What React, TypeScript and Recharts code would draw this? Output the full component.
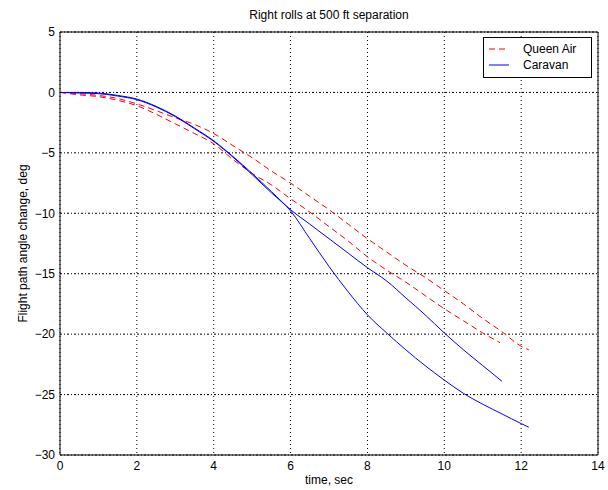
import { LineChart, Line, XAxis, YAxis, CartesianGrid, ReferenceLine } from "recharts";

// time, sec
const queenAirTime1 = [0, 0.5, 1, 1.5, 2, 2.5, 3, 3.5, 4, 4.5, 5, 5.5, 6, 6.5, 7, 7.5, 8, 8.5, 9, 9.5, 10, 10.5, 11, 11.5, 12, 12.2];
const queenAirAngle1 = [0, -0.1, -0.25, -0.5, -0.95, -1.5, -2.1, -2.65, -3.4, -4.4, -5.4, -6.5, -7.5, -8.6, -9.7, -10.9, -12.1, -13.2, -14.3, -15.3, -16.4, -17.5, -18.7, -19.8, -21.0, -21.3];

const queenAirTime2 = [0, 0.5, 1, 1.5, 2, 2.5, 3, 3.5, 4, 4.5, 5, 5.5, 6, 6.5, 7, 7.5, 8, 8.5, 9, 9.5, 10, 10.5, 11, 11.45];
const queenAirAngle2 = [0, -0.2, -0.35, -0.65, -1.1, -1.8, -2.6, -3.4, -4.25, -5.55, -6.7, -7.65, -8.8, -9.9, -11.1, -12.3, -13.6, -14.7, -15.7, -16.8, -17.9, -18.9, -19.9, -20.7];

const caravanTime1 = [0, 0.5, 1, 1.5, 2, 2.5, 3, 3.5, 4, 4.5, 5, 5.5, 6, 6.5, 7, 7.5, 8, 8.5, 9, 9.5, 10, 10.5, 11, 11.5];
const caravanAngle1 = [0, 0, -0.05, -0.25, -0.55, -1.15, -1.95, -2.95, -4.0, -5.3, -6.7, -8.2, -9.7, -10.9, -12.1, -13.3, -14.5, -15.6, -17.0, -18.4, -19.9, -21.3, -22.6, -23.9];

const caravanTime2 = [0, 0.5, 1, 1.5, 2, 2.5, 3, 3.5, 4, 4.5, 5, 5.5, 6, 6.5, 7, 7.5, 8, 8.5, 9, 9.5, 10, 10.5, 11, 11.5, 12, 12.2];
const caravanAngle2 = [0, -0.05, -0.1, -0.3, -0.6, -1.2, -2.0, -3.0, -4.05, -5.35, -6.8, -8.3, -9.8, -12.1, -14.4, -16.5, -18.4, -19.9, -21.3, -22.6, -23.8, -24.9, -25.8, -26.6, -27.4, -27.7];

const xTicks = [0, 2, 4, 6, 8, 10, 12, 14];
const yTicks = [-30, -25, -20, -15, -10, -5, 0, 5];

const toPoints = (t: number[], v: number[]) => t.map((time, i) => ({ time, angle: v[i] }));

const FONT = "'Liberation Sans', Arial, Helvetica, sans-serif";
const tickStyle = { fontSize: 12, fill: "#000", fontFamily: FONT };
const fmt = (v: number) => (v < 0 ? "\u2212" + Math.abs(v) : String(v));

export default function App() {
  return (
    <div style={{ position: "absolute", left: 0, top: 0, width: 606, height: 488, fontFamily: FONT, background: "#fff" }}>
      <div
        style={{ position: "absolute", left: 60, width: 538, top: 8, textAlign: "center", fontSize: 12, color: "#000" }}
      >
        Right rolls at 500 ft separation
      </div>
      <LineChart width={606} height={488} margin={{ top: 32, right: 8, left: 0, bottom: 4 }}>
        <CartesianGrid vertical={false} stroke="#000" strokeDasharray="2 2 1 2" />
        <CartesianGrid horizontal={false} stroke="#000" strokeDasharray="1 3" />
        <XAxis
          type="number"
          dataKey="time"
          domain={[0, 14]}
          ticks={xTicks}
          allowDataOverflow
          height={29}
          tickLine={false}
          tickSize={4}
          tickMargin={2}
          stroke="#000"
          tick={tickStyle}
          label={{ value: "time, sec", position: "insideBottom", offset: 0, style: tickStyle }}
        />
        <YAxis
          type="number"
          domain={[-30, 5]}
          ticks={yTicks}
          allowDataOverflow
          width={60}
          tickLine={false}
          tickSize={4}
          tickMargin={1}
          stroke="#000"
          tick={tickStyle}
          tickFormatter={fmt}
          label={{
            value: "Flight path angle change, deg",
            angle: -90,
            position: "insideLeft",
            offset: 23,
            style: { ...tickStyle, textAnchor: "middle" },
          }}
        />
        <ReferenceLine y={5} stroke="#000" />
        <ReferenceLine x={14} stroke="#000" />
        <Line data={toPoints(queenAirTime1, queenAirAngle1)} dataKey="angle" name="Queen Air" type="monotone" stroke="#ff0000" strokeDasharray="6 4" dot={false} isAnimationActive={false} />
        <Line data={toPoints(queenAirTime2, queenAirAngle2)} dataKey="angle" name="Queen Air" type="monotone" stroke="#ff0000" strokeDasharray="6 4" dot={false} isAnimationActive={false} />
        <Line data={toPoints(caravanTime1, caravanAngle1)} dataKey="angle" name="Caravan" type="monotone" stroke="#0000ff" dot={false} isAnimationActive={false} />
        <Line data={toPoints(caravanTime2, caravanAngle2)} dataKey="angle" name="Caravan" type="monotone" stroke="#0000ff" dot={false} isAnimationActive={false} />
      </LineChart>
      <div
        style={{
          position: "absolute",
          left: 483,
          top: 37,
          width: 107,
          height: 39,
          border: "1px solid #000",
          background: "#fff",
          fontSize: 12,
          color: "#000",
        }}
      >
        <div style={{ display: "flex", alignItems: "center", height: 16, marginTop: 3 }}>
          <svg width={35} height={10} style={{ marginLeft: 4 }}>
            <line x1={1} y1={5} x2={21} y2={5} stroke="#ff0000" strokeDasharray="6 4" />
          </svg>
          <span>Queen Air</span>
        </div>
        <div style={{ display: "flex", alignItems: "center", height: 16 }}>
          <svg width={35} height={10} style={{ marginLeft: 4 }}>
            <line x1={1} y1={5} x2={21} y2={5} stroke="#0000ff" />
          </svg>
          <span>Caravan</span>
        </div>
      </div>
    </div>
  );
}
